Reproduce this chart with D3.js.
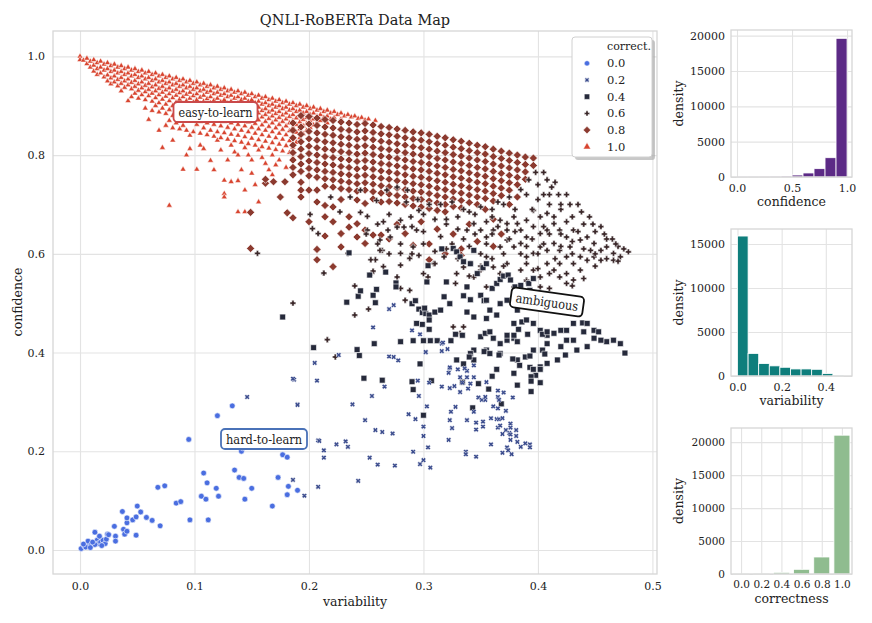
<!DOCTYPE html>
<html><head><meta charset="utf-8">
<script src="https://cdn.jsdelivr.net/npm/d3@7"></script>
<style>
body{margin:0;background:#fff}
text{font-family:'DejaVu Serif','Liberation Serif',serif;fill:#222}
</style></head>
<body><svg id="chart" width="872" height="623"></svg>
<script>
// ---------------- DATA ----------------
const correctLevels = ["0.0","0.2","0.4","0.6","0.8","1.0"];
// correctness 0.0 (variability, confidence)
const pts00 = [[0.001,0.003],[0.004,0.008],[0.006,0.010],[0.008,0.011],[0.007,0.018],[0.013,0.036],[0.015,0.020],[0.016,0.013],[0.018,0.016],[0.020,0.020],[0.022,0.013],[0.023,0.022],[0.024,0.032],[0.030,0.048],[0.031,0.028],[0.031,0.018],[0.037,0.078],[0.038,0.042],[0.039,0.032],[0.041,0.055],[0.041,0.065],[0.041,0.038],[0.046,0.061],[0.049,0.067],[0.049,0.030],[0.050,0.089],[0.053,0.077],[0.058,0.066],[0.063,0.060],[0.068,0.127],[0.070,0.049],[0.074,0.130],[0.084,0.095],[0.088,0.098],[0.095,0.224],[0.096,0.061],[0.106,0.109],[0.108,0.156],[0.110,0.103],[0.111,0.136],[0.112,0.061],[0.119,0.125],[0.120,0.272],[0.121,0.109],[0.133,0.292],[0.135,0.162],[0.139,0.147],[0.141,0.200],[0.142,0.207],[0.143,0.145],[0.144,0.103],[0.150,0.125],[0.168,0.089],[0.173,0.147],[0.177,0.193],[0.181,0.188],[0.181,0.112],[0.182,0.129],[0.190,0.121],[0.005,0.006],[0.010,0.011],[0.013,0.011],[0.017,0.028],[0.025,0.031],[0.003,0.012],[0.009,0.005],[0.011,0.016],[0.019,0.009]];
// correctness 0.2
const pts02 = [[0.146,0.310],[0.190,0.295],[0.186,0.142],[0.196,0.110],[0.208,0.222],[0.213,0.202],[0.213,0.187],[0.208,0.128],[0.187,0.345],[0.207,0.343],[0.205,0.379],[0.226,0.395],[0.238,0.295],[0.249,0.263],[0.255,0.312],[0.258,0.243],[0.264,0.239],[0.266,0.331],[0.273,0.236],[0.209,0.221],[0.224,0.214],[0.232,0.220],[0.234,0.209],[0.243,0.140],[0.253,0.187],[0.260,0.173],[0.275,0.171],[0.270,0.392],[0.274,0.391],[0.278,0.384],[0.287,0.275],[0.293,0.265],[0.291,0.199],[0.297,0.174],[0.300,0.182],[0.306,0.167],[0.304,0.208],[0.300,0.231],[0.300,0.250],[0.303,0.291],[0.296,0.312],[0.295,0.343],[0.302,0.401],[0.305,0.339],[0.316,0.418],[0.321,0.407],[0.316,0.331],[0.323,0.368],[0.322,0.359],[0.327,0.332],[0.323,0.328],[0.330,0.366],[0.332,0.350],[0.334,0.339],[0.338,0.350],[0.338,0.363],[0.332,0.320],[0.339,0.327],[0.341,0.337],[0.344,0.350],[0.344,0.374],[0.338,0.263],[0.344,0.280],[0.324,0.280],[0.328,0.290],[0.323,0.263],[0.325,0.247],[0.322,0.223],[0.337,0.199],[0.337,0.194],[0.346,0.189],[0.346,0.244],[0.346,0.258],[0.352,0.260],[0.352,0.250],[0.348,0.309],[0.351,0.304],[0.354,0.304],[0.354,0.310],[0.355,0.340],[0.365,0.323],[0.370,0.319],[0.365,0.310],[0.366,0.304],[0.378,0.309],[0.361,0.291],[0.365,0.287],[0.372,0.282],[0.359,0.267],[0.364,0.265],[0.366,0.265],[0.369,0.267],[0.376,0.256],[0.376,0.248],[0.372,0.243],[0.375,0.237],[0.381,0.243],[0.376,0.234],[0.381,0.231],[0.376,0.223],[0.385,0.209],[0.389,0.216],[0.393,0.214],[0.393,0.208],[0.382,0.219],[0.373,0.208],[0.374,0.202],[0.369,0.197],[0.359,0.214],[0.365,0.248],[0.369,0.235],[0.377,0.194],[0.367,0.252],[0.270,0.488],[0.274,0.496],[0.256,0.451],[0.290,0.445],[0.297,0.437],[0.317,0.420],[0.302,0.401],[0.316,0.403],[0.323,0.370],[0.336,0.368],[0.186,0.347],[0.190,0.294]];
// correctness 0.4
const pts04 = [[0.253,0.557],[0.267,0.563],[0.276,0.541],[0.276,0.533],[0.259,0.528],[0.256,0.516],[0.258,0.501],[0.233,0.502],[0.243,0.514],[0.245,0.525],[0.235,0.602],[0.290,0.499],[0.293,0.505],[0.296,0.488],[0.299,0.481],[0.302,0.479],[0.301,0.490],[0.305,0.476],[0.310,0.482],[0.315,0.486],[0.303,0.543],[0.304,0.576],[0.316,0.610],[0.320,0.543],[0.326,0.611],[0.329,0.604],[0.332,0.594],[0.335,0.584],[0.341,0.580],[0.344,0.607],[0.338,0.533],[0.335,0.515],[0.341,0.507],[0.350,0.516],[0.353,0.505],[0.355,0.506],[0.360,0.530],[0.364,0.540],[0.367,0.548],[0.370,0.555],[0.374,0.557],[0.376,0.547],[0.380,0.533],[0.385,0.536],[0.392,0.540],[0.393,0.526],[0.396,0.550],[0.347,0.560],[0.352,0.572],[0.355,0.580],[0.204,0.410],[0.244,0.394],[0.242,0.406],[0.257,0.418],[0.280,0.422],[0.291,0.424],[0.300,0.424],[0.306,0.424],[0.312,0.424],[0.324,0.424],[0.305,0.447],[0.299,0.457],[0.305,0.466],[0.294,0.459],[0.329,0.385],[0.344,0.405],[0.350,0.432],[0.354,0.439],[0.358,0.442],[0.361,0.429],[0.367,0.418],[0.373,0.425],[0.379,0.429],[0.383,0.447],[0.379,0.459],[0.386,0.462],[0.390,0.466],[0.396,0.459],[0.402,0.445],[0.408,0.435],[0.414,0.439],[0.420,0.445],[0.425,0.445],[0.431,0.459],[0.439,0.460],[0.443,0.459],[0.449,0.445],[0.453,0.442],[0.460,0.422],[0.466,0.425],[0.472,0.418],[0.476,0.399],[0.455,0.425],[0.443,0.412],[0.434,0.405],[0.424,0.395],[0.417,0.385],[0.408,0.378],[0.402,0.371],[0.393,0.370],[0.382,0.385],[0.367,0.398],[0.355,0.405],[0.344,0.385],[0.396,0.405],[0.408,0.418],[0.420,0.412],[0.431,0.425],[0.440,0.442],[0.449,0.429],[0.425,0.425],[0.367,0.499],[0.373,0.506],[0.358,0.486],[0.364,0.476],[0.355,0.469],[0.382,0.486],[0.385,0.506],[0.344,0.472],[0.338,0.482],[0.323,0.499],[0.318,0.513],[0.248,0.348],[0.264,0.344],[0.297,0.377],[0.290,0.341],[0.291,0.325],[0.307,0.343],[0.300,0.273],[0.328,0.437],[0.334,0.435],[0.341,0.398],[0.340,0.391],[0.353,0.402],[0.358,0.398],[0.366,0.395],[0.335,0.377],[0.334,0.340],[0.348,0.337],[0.357,0.326],[0.360,0.352],[0.364,0.366],[0.368,0.296],[0.343,0.288],[0.378,0.387],[0.384,0.374],[0.379,0.358],[0.382,0.334],[0.389,0.391],[0.393,0.393],[0.398,0.354],[0.396,0.366],[0.394,0.351],[0.394,0.342],[0.402,0.339],[0.394,0.321],[0.402,0.366],[0.404,0.405],[0.406,0.397],[0.373,0.435],[0.379,0.435],[0.382,0.422],[0.391,0.437],[0.404,0.437],[0.408,0.442],[0.177,0.472]];
// correctness 0.6
const pts06 = [[0.203,0.651],[0.213,0.561],[0.234,0.601],[0.240,0.535],[0.240,0.476],[0.216,0.426],[0.223,0.391],[0.252,0.488],[0.255,0.561],[0.258,0.588],[0.264,0.607],[0.262,0.628],[0.269,0.648],[0.277,0.654],[0.280,0.668],[0.280,0.577],[0.288,0.591],[0.296,0.597],[0.304,0.553],[0.309,0.580],[0.318,0.594],[0.328,0.540],[0.329,0.560],[0.335,0.573],[0.341,0.580],[0.288,0.526],[0.280,0.530],[0.284,0.506],[0.335,0.452],[0.326,0.452],[0.332,0.439],[0.367,0.668],[0.373,0.661],[0.379,0.675],[0.385,0.648],[0.390,0.634],[0.396,0.655],[0.402,0.641],[0.408,0.648],[0.414,0.661],[0.419,0.648],[0.425,0.634],[0.431,0.648],[0.437,0.628],[0.443,0.634],[0.449,0.621],[0.455,0.607],[0.460,0.614],[0.466,0.601],[0.472,0.594],[0.479,0.604],[0.396,0.688],[0.402,0.675],[0.408,0.682],[0.414,0.675],[0.390,0.668],[0.382,0.661],[0.373,0.628],[0.379,0.614],[0.385,0.621],[0.390,0.594],[0.396,0.601],[0.402,0.614],[0.408,0.607],[0.414,0.621],[0.419,0.607],[0.425,0.594],[0.431,0.580],[0.437,0.594],[0.443,0.587],[0.449,0.594],[0.455,0.587],[0.408,0.580],[0.414,0.567],[0.419,0.553],[0.425,0.540],[0.431,0.547],[0.437,0.567],[0.396,0.567],[0.402,0.553],[0.390,0.547],[0.379,0.533],[0.367,0.560],[0.361,0.573],[0.355,0.594],[0.350,0.567],[0.344,0.553],[0.338,0.533],[0.355,0.533],[0.373,0.580],[0.385,0.567],[0.367,0.614],[0.355,0.634],[0.350,0.648],[0.344,0.661],[0.338,0.648],[0.361,0.648],[0.373,0.648],[0.402,0.533],[0.419,0.580],[0.428,0.614],[0.446,0.607],[0.466,0.587],[0.155,0.601],[0.201,0.680],[0.208,0.641],[0.213,0.561],[0.234,0.601],[0.245,0.684],[0.251,0.676],[0.254,0.588],[0.256,0.565],[0.262,0.607],[0.265,0.574],[0.271,0.634],[0.277,0.553],[0.280,0.601],[0.283,0.654],[0.289,0.675],[0.294,0.648],[0.286,0.729],[0.277,0.735],[0.268,0.729],[0.259,0.708],[0.245,0.729],[0.236,0.715],[0.251,0.648],[0.265,0.665],[0.291,0.614],[0.296,0.688],[0.219,0.715],[0.227,0.685],[0.300,0.680],[0.310,0.670],[0.320,0.660],[0.330,0.675],[0.345,0.680],[0.355,0.665],[0.360,0.690],[0.370,0.700],[0.380,0.690],[0.390,0.720],[0.400,0.740],[0.405,0.720],[0.410,0.700],[0.420,0.690],[0.430,0.675],[0.440,0.660],[0.450,0.645],[0.460,0.630],[0.470,0.615],[0.405,0.765],[0.415,0.745],[0.425,0.720],[0.435,0.700],[0.445,0.675],[0.455,0.655],[0.465,0.630],[0.475,0.610],[0.410,0.720],[0.420,0.700],[0.400,0.710],[0.395,0.690],[0.425,0.665],[0.435,0.645],[0.420,0.640],[0.405,0.655],[0.300,0.620],[0.310,0.605],[0.315,0.635],[0.325,0.620],[0.335,0.630],[0.340,0.615],[0.350,0.600],[0.345,0.640],[0.355,0.620],[0.360,0.640],[0.365,0.655],[0.370,0.600],[0.375,0.630],[0.380,0.645],[0.385,0.600],[0.390,0.615],[0.395,0.630],[0.400,0.600],[0.405,0.620],[0.410,0.640],[0.390,0.580],[0.400,0.570],[0.410,0.560],[0.370,0.575],[0.360,0.590],[0.350,0.575],[0.340,0.555],[0.330,0.590],[0.320,0.610],[0.310,0.580],[0.300,0.560],[0.290,0.600],[0.280,0.620],[0.270,0.600],[0.260,0.620],[0.250,0.640],[0.260,0.660],[0.270,0.680],[0.290,0.655],[0.300,0.645],[0.320,0.670],[0.340,0.685],[0.360,0.675],[0.330,0.650],[0.420,0.615],[0.430,0.625],[0.440,0.610],[0.450,0.600],[0.430,0.600],[0.450,0.575],[0.460,0.590],[0.470,0.585],[0.415,0.590],[0.425,0.560],[0.390,0.545],[0.380,0.520],[0.430,0.535],[0.440,0.550],[0.410,0.530],[0.186,0.500],[0.315,0.700],[0.325,0.705],[0.335,0.690],[0.350,0.695],[0.365,0.705],[0.375,0.715],[0.385,0.730],[0.392,0.750],[0.398,0.765],[0.408,0.750],[0.412,0.735],[0.418,0.720],[0.428,0.700],[0.438,0.685],[0.448,0.660],[0.458,0.640],[0.468,0.620],[0.305,0.700],[0.295,0.710],[0.285,0.705]];
// correctness 0.8 : columns [variability, [confidence...]]
const cols08 = [
[0.149,[0.684,0.611]],[0.162,[0.743,0.751]],[0.169,[0.746]],[0.175,[0.715]],[0.179,[0.746]],[0.181,[0.683]],
[0.186,[0.865,0.85,0.835,0.82,0.805,0.79,0.775,0.76,0.673]],
[0.193,[0.88,0.857,0.842,0.827,0.812,0.797,0.782,0.767,0.745,0.729,0.715]],
[0.200,[0.878,0.863,0.848,0.833,0.818,0.803,0.788,0.773,0.758,0.729,0.665]],
[0.207,[0.875,0.86,0.845,0.83,0.815,0.8,0.785,0.77,0.755,0.729,0.705,0.588,0.609]],
[0.214,[0.872,0.857,0.842,0.827,0.812,0.797,0.782,0.767,0.752,0.737,0.698,0.636,0.675]],
[0.221,[0.87,0.855,0.84,0.825,0.81,0.795,0.78,0.765,0.75,0.735,0.695,0.665,0.574]],
[0.228,[0.867,0.852,0.837,0.822,0.807,0.792,0.777,0.762,0.747,0.732,0.71,0.614,0.641]],
[0.235,[0.865,0.85,0.835,0.82,0.805,0.79,0.775,0.76,0.745,0.73,0.675,0.654]],
[0.242,[0.862,0.847,0.832,0.817,0.802,0.787,0.772,0.757,0.742,0.727,0.709,0.661,0.634]],
[0.249,[0.864,0.849,0.834,0.819,0.804,0.789,0.774,0.759,0.744,0.729,0.702,0.648,0.621]],
[0.256,[0.861,0.846,0.831,0.816,0.801,0.786,0.771,0.756,0.741,0.726,0.711,0.638]],
[0.263,[0.858,0.843,0.828,0.813,0.798,0.783,0.768,0.753,0.738,0.723,0.705,0.638]],
[0.270,[0.856,0.841,0.826,0.811,0.796,0.781,0.766,0.751,0.736,0.721,0.706,0.63]],
[0.277,[0.853,0.838,0.823,0.808,0.793,0.778,0.763,0.748,0.733,0.718,0.703,0.66]],
[0.284,[0.85,0.835,0.82,0.805,0.79,0.775,0.76,0.745,0.73,0.715,0.7,0.641]],
[0.291,[0.847,0.832,0.817,0.802,0.787,0.772,0.757,0.742,0.727,0.712,0.697,0.617]],
[0.298,[0.845,0.83,0.815,0.8,0.785,0.77,0.755,0.74,0.725,0.71,0.695,0.665]],
[0.305,[0.842,0.827,0.812,0.797,0.782,0.767,0.752,0.737,0.722,0.707,0.692,0.62,0.588]],
[0.312,[0.838,0.823,0.808,0.793,0.778,0.763,0.748,0.733,0.718,0.703,0.688,0.65]],
[0.319,[0.835,0.82,0.805,0.79,0.775,0.76,0.745,0.73,0.715,0.7,0.685,0.6]],
[0.326,[0.831,0.816,0.801,0.786,0.771,0.756,0.741,0.726,0.711,0.696,0.64]],
[0.333,[0.828,0.813,0.798,0.783,0.768,0.753,0.738,0.723,0.708,0.693,0.61,0.597]],
[0.340,[0.824,0.809,0.794,0.779,0.764,0.749,0.734,0.719,0.704,0.66]],
[0.347,[0.82,0.805,0.79,0.775,0.76,0.745,0.73,0.715,0.7,0.625]],
[0.354,[0.817,0.802,0.787,0.772,0.757,0.742,0.727,0.712,0.69]],
[0.361,[0.812,0.797,0.782,0.767,0.752,0.737,0.722,0.707,0.67,0.615]],
[0.368,[0.808,0.793,0.778,0.763,0.748,0.733,0.718,0.64]],
[0.375,[0.804,0.789,0.774,0.759,0.744,0.729,0.7]],
[0.382,[0.8,0.785,0.77,0.755,0.74,0.715]],
[0.389,[0.796,0.781,0.766,0.751]],
[0.396,[0.794,0.779]]
];
// correctness 1.0 : columns [variability, [confidence...]]
const cols10 = [
[0.000,[1.0,0.993]],[0.003,[0.992]],[0.006,[0.996,0.985]],[0.009,[0.99,0.978]],[0.012,[0.993,0.982,0.97]],[0.015,[0.987,0.975,0.963]],
[0.018,[0.99,0.978,0.966]],[0.021,[0.984,0.972,0.958]],[0.024,[0.987,0.975,0.962,0.95]],[0.027,[0.981,0.969,0.956,0.944]],
[0.030,[0.984,0.972,0.96,0.948]],[0.033,[0.978,0.966,0.953,0.94]],[0.036,[0.981,0.969,0.957,0.945,0.93]],[0.039,[0.975,0.963,0.95,0.937]],
[0.042,[0.978,0.966,0.954,0.942,0.91]],[0.045,[0.972,0.96,0.947,0.934,0.918]],[0.048,[0.975,0.963,0.951,0.939,0.925]],[0.051,[0.969,0.957,0.944,0.931,0.915]],
[0.054,[0.972,0.96,0.948,0.936,0.922]],[0.057,[0.966,0.954,0.941,0.928,0.912,0.895]],[0.060,[0.969,0.957,0.945,0.933,0.92,0.872]],[0.063,[0.963,0.951,0.938,0.925,0.909,0.89]],
[0.066,[0.966,0.954,0.942,0.93,0.916,0.9]],[0.069,[0.96,0.948,0.935,0.922,0.906,0.887,0.85]],
[0.072,[0.963,0.951,0.939,0.927,0.913,0.895,0.815]],[0.075,[0.957,0.945,0.932,0.919,0.903,0.884,0.86]],[0.078,[0.96,0.948,0.936,0.924,0.91,0.892,0.87,0.698]],[0.081,[0.954,0.942,0.929,0.916,0.9,0.88,0.855,0.83]],
[0.084,[0.957,0.945,0.933,0.921,0.907,0.889,0.865]],[0.087,[0.951,0.939,0.926,0.913,0.897,0.877,0.853]],[0.090,[0.954,0.942,0.93,0.918,0.904,0.886,0.86,0.771]],[0.093,[0.948,0.936,0.923,0.91,0.894,0.874,0.85,0.8]],
[0.096,[0.951,0.939,0.927,0.915,0.901,0.883,0.84,0.813]],[0.099,[0.945,0.933,0.92,0.907,0.891,0.871,0.847]],[0.102,[0.948,0.936,0.924,0.912,0.898,0.88,0.862,0.771]],[0.105,[0.942,0.93,0.917,0.904,0.888,0.868,0.844,0.82]],
[0.108,[0.945,0.933,0.921,0.909,0.895,0.877,0.855,0.813]],[0.111,[0.939,0.927,0.914,0.901,0.885,0.865,0.841]],[0.114,[0.942,0.93,0.918,0.906,0.892,0.874,0.85,0.789]],[0.117,[0.936,0.924,0.911,0.898,0.882,0.862,0.838,0.77]],
[0.120,[0.939,0.927,0.915,0.903,0.889,0.871,0.847,0.83]],[0.123,[0.933,0.921,0.908,0.895,0.879,0.859,0.835,0.81]],[0.126,[0.936,0.924,0.912,0.9,0.886,0.868,0.845,0.722,0.715,0.749]],[0.129,[0.93,0.918,0.905,0.892,0.876,0.856,0.832,0.79]],
[0.132,[0.933,0.921,0.909,0.897,0.883,0.865,0.842,0.82,0.746]],[0.135,[0.927,0.915,0.902,0.889,0.873,0.853,0.829,0.806]],[0.138,[0.93,0.918,0.906,0.894,0.88,0.862,0.84,0.8,0.748,0.685]],[0.141,[0.924,0.912,0.899,0.886,0.87,0.85,0.826,0.77]],
[0.144,[0.927,0.915,0.903,0.891,0.877,0.859,0.837,0.815,0.729,0.685]],[0.147,[0.921,0.909,0.896,0.883,0.867,0.847,0.823,0.8]],[0.150,[0.924,0.912,0.9,0.888,0.874,0.856,0.834,0.79,0.763]],[0.153,[0.918,0.906,0.893,0.88,0.864,0.844,0.82,0.74]],
[0.156,[0.921,0.909,0.897,0.885,0.871,0.853,0.831,0.81,0.705]],[0.159,[0.915,0.903,0.89,0.877,0.861,0.841,0.817,0.795]],[0.162,[0.918,0.906,0.894,0.882,0.868,0.85,0.828,0.783]],[0.165,[0.912,0.9,0.887,0.874,0.858,0.838,0.814,0.77]],
[0.168,[0.915,0.903,0.891,0.879,0.865,0.847,0.825,0.8,0.76]],[0.171,[0.909,0.897,0.884,0.871,0.855,0.835,0.811,0.78]],[0.174,[0.912,0.9,0.888,0.876,0.862,0.844,0.822,0.79]],[0.177,[0.906,0.894,0.881,0.868,0.852,0.832,0.808]],
[0.180,[0.909,0.897,0.885,0.873,0.859,0.841,0.819,0.775]],[0.183,[0.903,0.891,0.878,0.865,0.849,0.829,0.805]],[0.186,[0.906,0.894,0.882,0.87,0.856,0.838,0.816,0.795]],[0.189,[0.9,0.888,0.875,0.862,0.846,0.826]],
[0.192,[0.903,0.891,0.879,0.867,0.853,0.835]],[0.195,[0.897,0.885,0.872,0.859,0.843]],[0.198,[0.9,0.888,0.876,0.864,0.85]],[0.201,[0.894,0.882,0.869,0.856]],[0.204,[0.897,0.885,0.873,0.861]],[0.207,[0.891,0.879,0.866]],
[0.210,[0.894,0.882,0.87]],[0.213,[0.888,0.876]],[0.216,[0.891,0.879,0.865]],[0.219,[0.885,0.873]],[0.222,[0.888,0.876]],[0.225,[0.882]],[0.228,[0.885,0.873]],[0.231,[0.879]],
[0.234,[0.882]],[0.237,[0.877]],[0.240,[0.879]],[0.243,[0.874]],[0.246,[0.876]],[0.249,[0.871]],[0.252,[0.873]],[0.258,[0.87]]
];
// histograms
const confEdges = [0.0,0.1,0.2,0.3,0.4,0.5,0.6,0.7,0.8,0.9,1.0];
const confCounts = [10,15,20,40,140,280,570,1180,2730,19620];
const varEdges = [0.0,0.048,0.096,0.144,0.192,0.240,0.288,0.336,0.384,0.432,0.480];
const varCounts = [15900,2560,1410,1150,990,800,800,760,270,20];
const corrCats = ["0.0","0.2","0.4","0.6","0.8","1.0"];
const corrCounts = [15,40,250,710,2580,21060];
const mainXTicks = [0.0,0.1,0.2,0.3,0.4,0.5];
const mainYTicks = [0.0,0.2,0.4,0.6,0.8,1.0];

// ---------------- STYLE ----------------
const levelColors = ["#4a6ee0","#3c4d8e","#262a3b","#3a2729","#8c3a2f","#d8442f"];
const gridCol = "#e3e3e3", frameCol = "#d6d6d6";
const FONT = "DejaVu Serif";
const svg = d3.select("#chart");

function flatCols(cols){ const out=[]; cols.forEach(c=>c[1].forEach(v=>out.push([c[0],v]))); return out; }
const pts08 = flatCols(cols08), pts10 = flatCols(cols10);

// filled plus symbol (matplotlib-like 'P' / 'X' at small size)
const thinPlus = { draw(ctx, size){ const r=Math.sqrt(size)/2, t=r*0.38;
  ctx.moveTo(-r,-t);ctx.lineTo(-t,-t);ctx.lineTo(-t,-r);ctx.lineTo(t,-r);ctx.lineTo(t,-t);ctx.lineTo(r,-t);
  ctx.lineTo(r,t);ctx.lineTo(t,t);ctx.lineTo(t,r);ctx.lineTo(-t,r);ctx.lineTo(-t,t);ctx.lineTo(-r,t);ctx.closePath(); } };

// ---------------- MAIN SCATTER ----------------
const M = {l:53,r:657,t:31,b:574};
const x = d3.scaleLinear().domain([-0.0236,0.504]).range([M.l,M.r]);
const y = d3.scaleLinear().domain([-0.0486,1.0514]).range([M.b,M.t]);

function styleAxis(a){ a.select(".domain").remove(); a.selectAll("line").attr("stroke",gridCol).attr("stroke-width",1.1);
  a.selectAll("text").attr("font-size",11).attr("fill","#333").style("font-family",FONT); }

const g = svg.append("g");
g.append("g").attr("transform",`translate(0,${M.b})`)
  .call(d3.axisBottom(x).tickValues(mainXTicks).tickSize(-(M.b-M.t)).tickFormat(d3.format(".1f")).tickPadding(8)).call(styleAxis);
g.append("g").attr("transform",`translate(${M.l},0)`)
  .call(d3.axisLeft(y).tickValues(mainYTicks).tickSize(-(M.r-M.l)).tickFormat(d3.format(".1f")).tickPadding(8)).call(styleAxis);
g.append("rect").attr("x",M.l).attr("y",M.t).attr("width",M.r-M.l).attr("height",M.b-M.t)
  .attr("fill","none").attr("stroke",frameCol).attr("stroke-width",1.3);

const markers = [
  {t:d3.symbolCircle, s:26, r:0, sw:0.6},
  {t:thinPlus, s:28, r:45, sw:0.5},
  {t:d3.symbolSquare, s:34, r:0, sw:0.6},
  {t:thinPlus, s:34, r:0, sw:0.5},
  {t:d3.symbolSquare, s:33, r:45, sw:0.6},
  {t:d3.symbolTriangle, s:15, r:0, sw:0.5}
];
function drawPts(data, i){
  const m = markers[i];
  const p = d3.symbol().type(m.t).size(m.s)();
  g.append("g").selectAll("path").data(data).join("path")
    .attr("d",p)
    .attr("transform",d=>`translate(${x(d[0])},${y(d[1])}) rotate(${m.r})`)
    .attr("fill",levelColors[i]).attr("stroke","#fff").attr("stroke-width",m.sw);
}
drawPts(pts10,5);
drawPts(pts08,4);
drawPts(pts06,3);
drawPts(pts04,2);
drawPts(pts02,1);
drawPts(pts00,0);

// annotations
function label(txt,cx,cy,col,rot,tw){
  const a = svg.append("g").attr("transform",`translate(${cx},${cy}) rotate(${rot})`);
  a.append("rect").attr("x",-tw/2-5).attr("y",-10).attr("width",tw+10).attr("height",20).attr("rx",4)
    .attr("fill","#fff").attr("stroke",col).attr("stroke-width",1.8);
  a.append("text").attr("text-anchor","middle").attr("dy","0.36em").attr("font-size",13)
    .attr("textLength",tw).attr("lengthAdjust","spacingAndGlyphs").text(txt);
}
label("easy-to-learn",215.5,112,"#c9494a",0,74);
label("hard-to-learn",264,439,"#4a72b8",0,76);
label("ambiguous",547,302,"#111",8,63);

// titles
svg.append("text").attr("x",355).attr("y",25).attr("text-anchor","middle").attr("font-size",14.5).text("QNLI-RoBERTa Data Map");
svg.append("text").attr("x",355).attr("y",606).attr("text-anchor","middle").attr("font-size",12.5).text("variability");
svg.append("text").attr("transform","translate(22,302) rotate(-90)").attr("text-anchor","middle").attr("font-size",12.5).text("confidence");

// legend
const L = svg.append("g");
L.append("rect").attr("x",575).attr("y",40).attr("width",80).attr("height",120).attr("rx",3).attr("fill","#9a9a9a").attr("opacity",0.55);
L.append("rect").attr("x",572).attr("y",37).attr("width",80).attr("height",120).attr("rx",3).attr("fill","#fff").attr("stroke","#d0d0d0");
L.append("text").attr("x",607).attr("y",46).attr("dy","0.35em").attr("font-size",11).text("correct.");
correctLevels.forEach((lv,i)=>{
  const yy = 63.3 + i*16.7, m = markers[i];
  L.append("path").attr("d",d3.symbol().type(m.t).size(i===5?24:m.s*0.85)())
    .attr("transform",`translate(587,${yy}) rotate(${m.r})`).attr("fill",levelColors[i]).attr("stroke","#fff").attr("stroke-width",0.5);
  L.append("text").attr("x",607).attr("y",yy).attr("dy","0.35em").attr("font-size",11.5).text(lv);
});

// ---------------- HISTOGRAMS ----------------
function panel(box, xs, ys, xTicks, xFmt, yTicks, xlabel){
  const p = svg.append("g");
  p.append("g").attr("transform",`translate(0,${box.b})`)
    .call(d3.axisBottom(xs).tickValues(xTicks).tickSize(-(box.b-box.t)).tickFormat(xFmt).tickPadding(7)).call(styleAxis);
  p.append("g").attr("transform",`translate(${box.l},0)`)
    .call(d3.axisLeft(ys).tickValues(yTicks).tickSize(-(box.r-box.l)).tickFormat(d3.format("d")).tickPadding(6)).call(styleAxis);
  p.append("text").attr("x",(box.l+box.r)/2).attr("y",box.b+29).attr("text-anchor","middle").attr("font-size",12.5).text(xlabel);
  p.append("text").attr("transform",`translate(683,${(box.t+box.b)/2}) rotate(-90)`).attr("text-anchor","middle").attr("font-size",12.5).text("density");
  return p;
}
function frame(p,box){
  p.append("rect").attr("x",box.l).attr("y",box.t).attr("width",box.r-box.l).attr("height",box.b-box.t)
    .attr("fill","none").attr("stroke",frameCol).attr("stroke-width",1.3);
}
{
  const box={l:731,r:852,t:30,b:177};
  const xs=d3.scaleLinear().domain([-0.0545,1.045]).range([box.l,box.r]);
  const ys=d3.scaleLinear().domain([0,20800]).range([box.b,box.t]);
  const p=panel(box,xs,ys,[0,0.5,1.0],d3.format(".1f"),[0,5000,10000,15000,20000],"confidence");
  p.append("g").selectAll("rect").data(confCounts).join("rect")
    .attr("x",(d,i)=>xs(confEdges[i])).attr("width",(d,i)=>xs(confEdges[i+1])-xs(confEdges[i]))
    .attr("y",d=>ys(d)).attr("height",d=>ys(0)-ys(d)).attr("fill","#5c2a86").attr("stroke","#fff").attr("stroke-width",0.8);
  frame(p,box);
}
{
  const box={l:731,r:852,t:229,b:376};
  const xs=d3.scaleLinear().domain([-0.0294,0.5186]).range([box.l,box.r]);
  const ys=d3.scaleLinear().domain([0,16700]).range([box.b,box.t]);
  const p=panel(box,xs,ys,[0,0.2,0.4],d3.format(".1f"),[0,5000,10000,15000],"variability");
  p.append("g").selectAll("rect").data(varCounts).join("rect")
    .attr("x",(d,i)=>xs(varEdges[i])).attr("width",(d,i)=>xs(varEdges[i+1])-xs(varEdges[i]))
    .attr("y",d=>ys(d)).attr("height",d=>ys(0)-ys(d)).attr("fill","#0e7e7c").attr("stroke","#fff").attr("stroke-width",0.8);
  frame(p,box);
}
{
  const box={l:731,r:852,t:428,b:574};
  const xc=d3.scalePoint().domain(corrCats).range([box.l,box.r]).padding(0.5);
  const ys=d3.scaleLinear().domain([0,22150]).range([box.b,box.t]);
  const p=panel(box,xc,ys,corrCats,d=>d,[0,5000,10000,15000,20000],"correctness");
  p.selectAll(".tick text").attr("font-size",10.5);
  p.append("g").selectAll("rect").data(corrCounts).join("rect")
    .attr("x",(d,i)=>xc(corrCats[i])-8).attr("width",16)
    .attr("y",d=>ys(d)).attr("height",d=>ys(0)-ys(d)).attr("fill","#8fbc8f").attr("stroke","#fff").attr("stroke-width",0.8);
  frame(p,box);
}
</script></body></html>
